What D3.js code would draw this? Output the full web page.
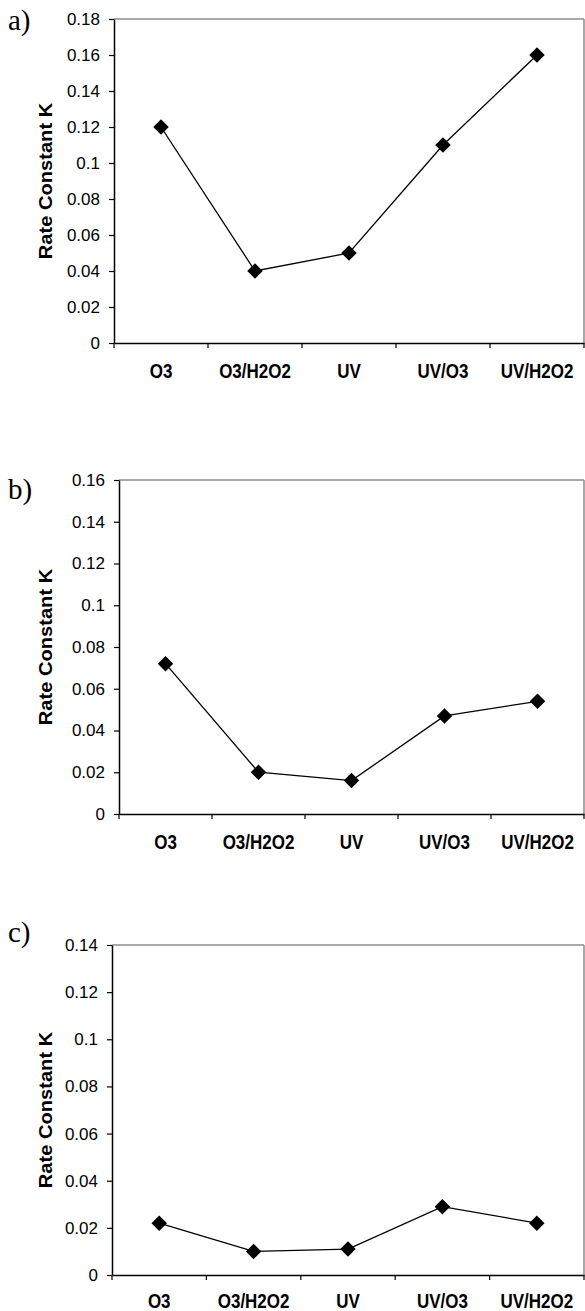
<!DOCTYPE html>
<html>
<head>
<meta charset="utf-8">
<script src="https://cdn.jsdelivr.net/npm/d3@7"></script>
<style>
  html, body { margin: 0; padding: 0; background: #fff; }
  svg { display: block; }
</style>
</head>
<body>
<script>
// Treatment processes on the x axis
const categories = ["O3", "O3/H2O2", "UV", "UV/O3", "UV/H2O2"];

// Rate constant K for each process, one array per panel
const rateA = [0.12, 0.04, 0.05, 0.11, 0.16];
const rateB = [0.072, 0.02, 0.016, 0.047, 0.054];
const rateC = [0.022, 0.010, 0.011, 0.029, 0.022];

// y-axis tick values per panel
const ticksA = [0, 0.02, 0.04, 0.06, 0.08, 0.1, 0.12, 0.14, 0.16, 0.18];
const ticksB = [0, 0.02, 0.04, 0.06, 0.08, 0.1, 0.12, 0.14, 0.16];
const ticksC = [0, 0.02, 0.04, 0.06, 0.08, 0.1, 0.12, 0.14];

const panelLabels = ["a)", "b)", "c)"];
const yTitle = "Rate Constant K";

const W = 585, H = 1311;
const svg = d3.select("body").append("svg")
  .attr("width", W).attr("height", H);

const panels = [
  { label: panelLabels[0], values: rateA, ticks: ticksA, left: 114, right: 584, top: 19,  bottom: 343,  labelY: 30,  catY: 35 },
  { label: panelLabels[1], values: rateB, ticks: ticksB, left: 119, right: 584, top: 480, bottom: 814,  labelY: 499, catY: 35 },
  { label: panelLabels[2], values: rateC, ticks: ticksC, left: 112, right: 584, top: 945, bottom: 1275, labelY: 942, catY: 33 }
];

const sansFont = "'Liberation Sans', Arial, Helvetica, sans-serif";
const serifFont = "'Liberation Serif', 'Times New Roman', serif";
const fmt = v => (v === 0 ? "0" : String(+v.toFixed(2)));
const stretch = 1.15;

panels.forEach(p => {
  const g = svg.append("g");

  const x = d3.scaleBand().domain(categories).range([p.left, p.right]);
  const y = d3.scaleLinear()
    .domain([0, p.ticks[p.ticks.length - 1]])
    .range([p.bottom, p.top]);

  // grey frame on top and right
  g.append("line")
    .attr("x1", p.left).attr("x2", p.right)
    .attr("y1", p.top).attr("y2", p.top)
    .attr("stroke", "#8c8c8c").attr("stroke-width", 1.5);
  g.append("line")
    .attr("x1", p.right).attr("x2", p.right)
    .attr("y1", p.top).attr("y2", p.bottom)
    .attr("stroke", "#8c8c8c").attr("stroke-width", 1.5);

  // y axis
  const yAxis = d3.axisLeft(y)
    .tickValues(p.ticks)
    .tickFormat(fmt)
    .tickSize(5)
    .tickPadding(9)
    .tickSizeOuter(0);
  const yg = g.append("g")
    .attr("transform", `translate(${p.left},0)`)
    .call(yAxis);
  yg.select(".domain").attr("stroke", "#000").attr("stroke-width", 1.5);
  yg.selectAll(".tick line").attr("stroke", "#000").attr("stroke-width", 1.2);
  yg.selectAll(".tick text")
    .attr("fill", "#000")
    .style("font-family", sansFont)
    .style("font-size", "17px");

  // x axis: ticks sit on the category boundaries
  const bounds = categories.map(c => x(c)).concat([p.right]);
  const xAxis = d3.axisBottom(x).tickSize(0).tickPadding(0).tickSizeOuter(0);
  const xg = g.append("g")
    .attr("transform", `translate(0,${p.bottom})`)
    .call(xAxis);
  xg.select(".domain").attr("stroke", "#000").attr("stroke-width", 1.5);
  xg.selectAll(".tick text")
    .attr("fill", "#000")
    .attr("dy", 0)
    .attr("y", p.catY / stretch)
    .attr("transform", `scale(1,${stretch})`)
    .style("font-family", sansFont)
    .style("font-weight", "bold")
    .style("font-size", "17px");
  g.append("g").selectAll("line")
    .data(bounds)
    .join("line")
    .attr("x1", d => d).attr("x2", d => d)
    .attr("y1", p.bottom).attr("y2", p.bottom + 5)
    .attr("stroke", "#000").attr("stroke-width", 1.2);

  // axis title
  g.append("text")
    .attr("transform", `translate(46,${(p.top + p.bottom) / 2}) rotate(-90) scale(${stretch},1)`)
    .attr("text-anchor", "middle")
    .attr("dy", "0.36em")
    .style("font-family", sansFont)
    .style("font-weight", "bold")
    .style("font-size", "17.5px")
    .text(yTitle);

  // panel letter
  g.append("text")
    .attr("x", 8).attr("y", p.labelY)
    .style("font-family", serifFont)
    .style("font-size", "29px")
    .text(p.label);

  // series line
  const pts = categories.map((c, i) => ({ c, v: p.values[i] }));
  const line = d3.line()
    .x(d => x(d.c) + x.bandwidth() / 2)
    .y(d => y(d.v));
  g.append("path")
    .datum(pts)
    .attr("d", line)
    .attr("fill", "none")
    .attr("stroke", "#000")
    .attr("stroke-width", 1.3);

  // diamond markers
  const diamond = d3.symbol().type(d3.symbolSquare).size(120);
  g.append("g").selectAll("path")
    .data(pts)
    .join("path")
    .attr("d", diamond)
    .attr("transform", d => `translate(${x(d.c) + x.bandwidth() / 2},${y(d.v)}) rotate(45)`)
    .attr("fill", "#000");
});
</script>
</body>
</html>
